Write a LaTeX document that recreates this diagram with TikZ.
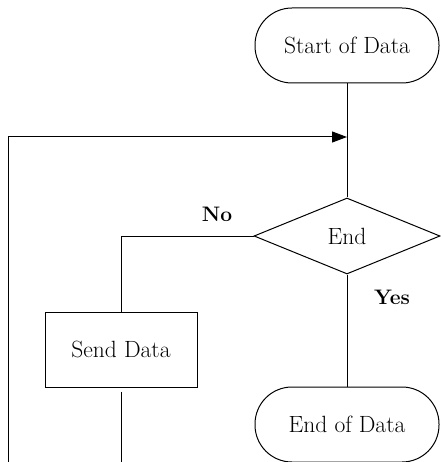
\documentclass[tikz,border=0pt]{standalone}
\usetikzlibrary{shapes.geometric,arrows.meta}
\begin{document}
\begin{tikzpicture}[x=1pt,y=-1pt,line width=1pt,
    terminal/.style={draw, rounded corners=37pt, minimum width=184pt, minimum height=75pt, inner sep=0pt, font=\fontsize{23.5}{28}\selectfont},
    process/.style={draw, minimum width=152pt, minimum height=75pt, inner sep=0pt, font=\fontsize{23.5}{28}\selectfont},
    decision/.style={draw, shape=diamond, minimum width=186pt, minimum height=76pt, inner sep=0pt, font=\fontsize{23.5}{28}\selectfont},
    answer/.style={font=\fontsize{21}{25}\selectfont\bfseries}
]
\useasboundingbox (0,0) rectangle (440,462);
% --- Knoten ---
\node[terminal] (start) at (347,45.5) {Start of Data};
\node[decision] (check) at (347,236) {End};
\node[process] (send) at (121,349.5) {Send Data};
\node[terminal] (stop) at (347,424.5) {End of Data};
% --- Hilfspunkte der Schleife ---
\coordinate (merge) at (347,137);
\coordinate (sendout) at (121,462);
\coordinate (loopout) at (8,462);
% --- Verbindungen ---
\draw (start) -- (check);
\draw (check.west) -| (send.north);
\draw (check.south) -- (stop.north);
\draw ([yshift=-4pt]send.south) -- (sendout);
\draw[-{Triangle[length=15pt,width=11pt]}] (loopout) |- (merge);
% --- Beschriftungen ---
\node[answer] (no) at (217,214) {No};
\node[answer] (yes) at (392,297) {Yes};
\end{tikzpicture}
\end{document}
